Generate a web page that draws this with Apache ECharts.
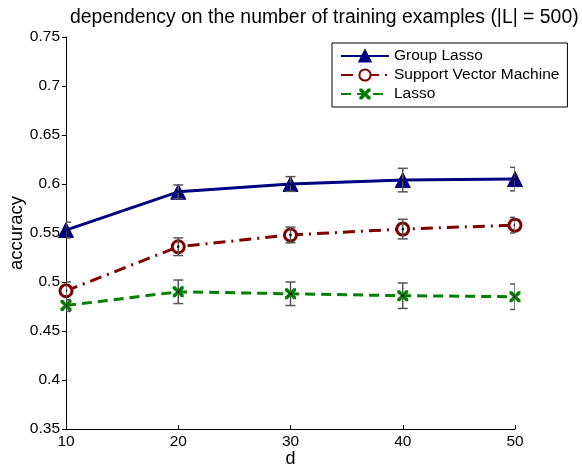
<!DOCTYPE html>
<html>
<head>
<meta charset="utf-8">
<script src="https://cdn.jsdelivr.net/npm/echarts@6/dist/echarts.min.js"></script>
<style>
  html, body { margin: 0; padding: 0; background: #fff; }
  #main { width: 582px; height: 476px; }
</style>
</head>
<body>
<div id="main"></div>
<script>
var d = [10, 20, 30, 40, 50]

// accuracy per method, plus error bar half-widths
var groupLasso = [0.553, 0.592, 0.600, 0.604, 0.605]
var groupLassoErr = [0.008, 0.007, 0.0075, 0.012, 0.012]
var svm = [0.491, 0.536, 0.548, 0.554, 0.558]
var svmErr = [0.009, 0.009, 0.008, 0.010, 0.008]
var lasso = [0.476, 0.490, 0.488, 0.486, 0.485]
var lassoErr = [0.006, 0.012, 0.012, 0.013, 0.013]

var xMark = "path://M0,0 L2.5,0 L5,3 L7.5,0 L10,0 L10,2.5 L7,5 L10,7.5 L10,10 L7.5,10 L5,7 L2.5,10 L0,10 L0,7.5 L3,5 L0,2.5 Z"

function pairs(ys) {
  return d.map(function (x, i) { return [x, ys[i]] })
}

function errRows(ys, errs) {
  return d.map(function (x, i) { return [x, ys[i] - errs[i], ys[i] + errs[i], ys[i]] })
}

function renderErr(params, api) {
  var lo = api.coord([api.value(0), api.value(1)])
  var hi = api.coord([api.value(0), api.value(2)])
  var mid = api.coord([api.value(0), api.value(3)])
  var w = 5
  var st = { stroke: "#555", lineWidth: 1.5 }
  return {
    type: "group",
    children: [
      { type: "line", shape: { x1: lo[0], y1: lo[1], x2: hi[0], y2: hi[1] }, style: st },
      { type: "line", shape: { x1: lo[0] - w, y1: lo[1], x2: lo[0] + w, y2: lo[1] }, style: st },
      { type: "line", shape: { x1: hi[0] - w, y1: hi[1], x2: hi[0] + w, y2: hi[1] }, style: st },
      { type: "circle", shape: { cx: mid[0], cy: mid[1], r: 1.3 }, style: { fill: "#111" }, z2: 10 },
    ],
  }
}

function errSeries(ys, errs) {
  return {
    type: "custom",
    renderItem: renderErr,
    data: errRows(ys, errs),
    clip: true,
    z: 5,
    silent: true,
    encode: { x: 0, y: [1, 2] },
  }
}

var chart = echarts.init(document.getElementById("main"), null, { renderer: "canvas" })

var font = "Liberation Sans, Arial, sans-serif"

var option = {
  backgroundColor: "#fff",
  animation: false,
  textStyle: { fontFamily: font },
  title: {
    text: "dependency on the number of training examples (|L| = 500)",
    left: 65,
    top: 3,
    textStyle: { fontFamily: font, fontSize: 19.4, fontWeight: "normal", color: "#000" },
  },
  legend: {
    orient: "vertical",
    left: 332,
    top: 43,
    padding: [5, 8, 5, 8],
    itemGap: 3,
    itemWidth: 48,
    itemHeight: 14,
    borderColor: "#000",
    borderWidth: 1,
    backgroundColor: "#fff",
    textStyle: { fontFamily: font, fontSize: 15.5, color: "#000" },
    data: ["Group Lasso", "Support Vector Machine", "Lasso"],
  },
  grid: { left: 66, right: 67, top: 37, bottom: 47, outerBoundsMode: "none", containLabel: false },
  xAxis: {
    type: "value",
    min: 10,
    max: 50,
    interval: 10,
    name: "d",
    nameLocation: "middle",
    nameGap: 21,
    nameMoveOverlap: false,
    nameTextStyle: { fontFamily: font, fontSize: 18, color: "#000", verticalAlign: "top" },
    axisLine: { lineStyle: { color: "#000", width: 1 } },
    axisTick: { inside: true, length: 4, lineStyle: { color: "#000" } },
    axisLabel: { fontFamily: font, fontSize: 15.5, color: "#000", margin: 5 },
    splitLine: { show: false },
  },
  yAxis: {
    type: "value",
    min: 0.35,
    max: 0.75,
    interval: 0.05,
    name: "accuracy",
    nameLocation: "middle",
    nameGap: 40,
    nameMoveOverlap: false,
    nameTextStyle: { fontFamily: font, fontSize: 18.5, color: "#000" },
    axisLine: { show: true, lineStyle: { color: "#000", width: 1 } },
    axisTick: { show: true, inside: false, length: 4, lineStyle: { color: "#000" } },
    axisLabel: { fontFamily: font, fontSize: 15.5, color: "#000", margin: 6, formatter: function (v) { return String(+v.toFixed(2)) } },
    splitLine: { show: false },
  },
  series: [
    {
      name: "Group Lasso",
      type: "line",
      data: pairs(groupLasso),
      symbol: "triangle",
      symbolSize: 15,
      color: "#000080",
      lineStyle: { color: "#000080", width: 3, type: "solid" },
      itemStyle: { color: "#000080", borderColor: "#000080", borderWidth: 1 },
      z: 3,
    },
    {
      name: "Support Vector Machine",
      type: "line",
      data: pairs(svm),
      symbol: "circle",
      symbolSize: 12,
      color: "#800000",
      lineStyle: { color: "#800000", width: 3, type: [12, 6, 2, 6] },
      itemStyle: { color: "#fff", borderColor: "#800000", borderWidth: 3, opacity: 1 },
      z: 3,
    },
    {
      name: "Lasso",
      type: "line",
      data: pairs(lasso),
      symbol: xMark,
      symbolSize: 11,
      color: "#008000",
      lineStyle: { color: "#008000", width: 3, type: [10, 6] },
      itemStyle: { color: "#008000" },
      z: 3,
    },
    errSeries(groupLasso, groupLassoErr),
    errSeries(svm, svmErr),
    errSeries(lasso, lassoErr),
  ],
}

chart.setOption(option)
</script>
</body>
</html>
